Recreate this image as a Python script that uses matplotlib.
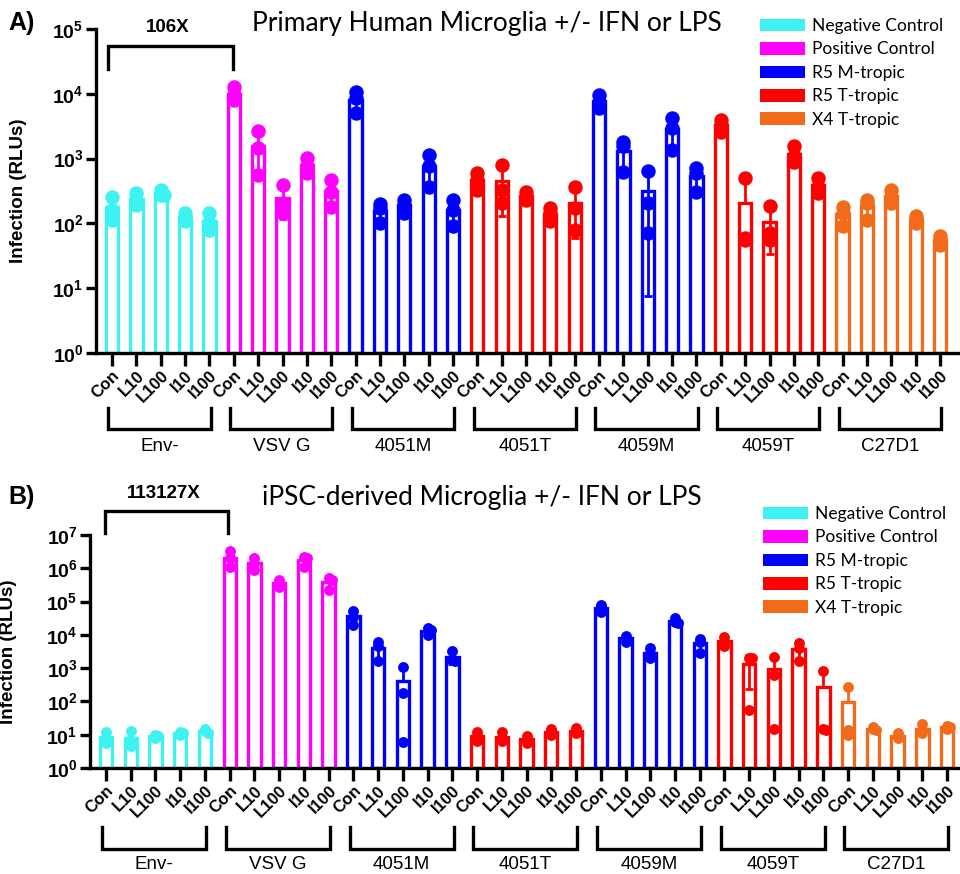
import numpy as np
import matplotlib
matplotlib.use("Agg")
import matplotlib.pyplot as plt
from matplotlib.patches import Patch
from matplotlib.transforms import blended_transform_factory

plt.rcParams['font.family'] = ['Liberation Sans', 'DejaVu Sans']
plt.rcParams['mathtext.fontset'] = 'custom'
plt.rcParams['mathtext.bf'] = 'Liberation Sans:bold'
plt.rcParams['mathtext.rm'] = 'Liberation Sans:bold'

# ---- data (3 replicate dots per bar, RLUs) ----
groups = ['Env-', 'VSV G', '4051M', '4051T', '4059M', '4059T', 'C27D1']
conditions = ['Con', 'L10', 'L100', 'I10', 'I100']
legend_labels = ['Negative Control', 'Positive Control', 'R5 M-tropic', 'R5 T-tropic', 'X4 T-tropic']
legend_colors = ['#3EF2F2', '#FF00FF', '#0000FF', '#FF0000', '#F26B1A']
group_type = [0, 1, 2, 3, 2, 3, 4]   # index into legend for each group

# Panel A: primary human microglia
a_env = [[260, 162, 114], [293, 230, 194], [322, 277, 277], [144, 121, 107], [145, 100, 80]]
a_vsvg = [[12600, 9600, 8100], [2630, 1450, 560], [394, 205, 144], [1010, 757, 600], [470, 300, 180]]
a_4051m = [[10800, 8500, 5000], [200, 170, 100], [230, 194, 144], [1140, 757, 370], [230, 162, 90]]
a_4051t = [[596, 470, 330], [800, 330, 205], [300, 260, 230], [172, 144, 107], [370, 172, 80]]
a_4059m = [[9600, 7600, 6000], [1830, 1540, 630], [655, 210, 72], [4200, 2930, 1360], [710, 596, 310]]
a_4059t = [[4000, 3300, 2600], [500, 60, 55], [186, 71, 56], [1540, 1100, 900], [500, 370, 290]]
a_c27d1 = [[178, 144, 90], [230, 205, 114], [330, 260, 205], [128, 114, 100], [63, 56, 47]]

# Panel B: iPSC-derived microglia
b_env = [[11.7, 8, 5.6], [12.6, 7, 4.5], [10, 9, 8], [11.7, 11, 10], [14.8, 12.6, 11]]
b_vsvg = [[3.2e6, 2.0e6, 1.1e6], [2.0e6, 1.4e6, 0.9e6], [4.5e5, 3.5e5, 2.8e5], [2.2e6, 2.0e6, 1.1e6], [5.0e5, 4.5e5, 2.2e5]]
b_4051m = [[5.3e4, 3.5e4, 2.0e4], [5900, 4500, 1600], [1050, 178, 5.9], [1.6e4, 1.4e4, 1.0e4], [3200, 1800, 1600]]
b_4051t = [[11.7, 9, 6.3], [11.7, 8, 6.3], [9, 7, 5.6], [14.8, 12.6, 10], [15.8, 13, 11.2]]
b_4059m = [[7.9e4, 6.3e4, 5.0e4], [9300, 7900, 6300], [4000, 2800, 2000], [3.2e4, 2.5e4, 2.2e4], [7400, 6300, 2950]]
b_4059t = [[8900, 6300, 4700], [2000, 2000, 56], [2140, 630, 15], [5600, 4000, 1600], [800, 15, 14]]
b_c27d1 = [[270, 14, 10], [17, 14.8, 13.5], [11, 9.3, 8], [21, 14, 11], [18.6, 17, 14.8]]

panel_a = [a_env, a_vsvg, a_4051m, a_4051t, a_4059m, a_4059t, a_c27d1]
panel_b = [b_env, b_vsvg, b_4051m, b_4051t, b_4059m, b_4059t, b_c27d1]


def spread(vals, thresh, step):
    # small horizontal offsets for dots that sit right on top of each other
    placed = []
    offs = []
    for v in vals:
        lv = np.log10(v)
        for o in [0, step, -step, 2 * step]:
            if all(abs(lv - pl) > thresh or po != o for pl, po in placed):
                break
        placed.append((lv, o))
        offs.append(o)
    return np.array(offs)


def draw_panel(ax, data, ymax, ms, thresh):
    x = 0
    for g, group in enumerate(data):
        col = legend_colors[group_type[g]]
        for reps in group:
            reps = np.array(reps, dtype=float)
            m = reps.mean()
            sd = reps.std(ddof=1)
            lo = m - sd if m - sd > 0 else m
            ax.bar(x, m - 1, bottom=1, width=0.5, facecolor='white',
                   edgecolor=col, linewidth=2.4, zorder=2)
            ax.errorbar(x, m, yerr=[[m - lo], [sd]], fmt='none', ecolor=col,
                        elinewidth=2, capsize=3, capthick=2, zorder=3)
            ax.plot(x + spread(reps, thresh, 0.12), reps, 'o', color=col,
                    ms=ms, mec=col, zorder=4, clip_on=False)
            x += 1
    ax.set_yscale('log')
    ax.set_ylim(1, ymax)
    n = int(round(np.log10(ymax)))
    ax.yaxis.set_major_locator(matplotlib.ticker.FixedLocator([10.0 ** k for k in range(n + 1)]))
    ax.yaxis.set_minor_locator(matplotlib.ticker.NullLocator())
    ax.set_yticklabels([r'$\mathbf{10^{%d}}$' % k for k in range(n + 1)], fontsize=14)
    ax.set_xticks(np.arange(len(groups) * len(conditions)))
    ax.set_xticklabels(conditions * len(groups), rotation=45, ha='right',
                       rotation_mode='anchor', fontsize=12, fontweight='bold')
    for s in ['top', 'right']:
        ax.spines[s].set_visible(False)
    for s in ['left', 'bottom']:
        ax.spines[s].set_linewidth(2.4)
    ax.tick_params(axis='y', length=7, width=2.4, pad=2)
    ax.tick_params(axis='x', length=9, width=2.4, pad=2)
    ax.set_ylabel('Infection (RLUs)', fontsize=13.5, fontweight='bold')


def group_brackets(ax, top, bot, text_y):
    tr = blended_transform_factory(ax.transData, ax.transAxes)
    for g, name in enumerate(groups):
        x0, x1 = g * 5 - 0.15, g * 5 + 4.05
        ax.plot([x0, x0, x1, x1], [top, bot, bot, top], color='black', lw=2.4,
                transform=tr, clip_on=False, solid_joinstyle='miter')
        ax.text((x0 + x1) / 2, text_y, name, transform=tr, ha='center', va='center',
                fontsize=13.5)


def top_bracket(ax, x0, x1, ytop, yleg, label, ylab):
    ax.plot([x0, x0, x1, x1], [yleg, ytop, ytop, yleg], color='black', lw=2.4,
            clip_on=False, solid_joinstyle='miter')
    ax.text((x0 + x1) / 2 - 0.1, ylab, label, ha='center', va='center',
            fontsize=13.5, fontweight='bold')


fig = plt.figure(figsize=(9.6, 8.74), dpi=100)
axA = fig.add_axes([96 / 960, (874 - 353) / 874, (958 - 96) / 960, (353 - 29) / 874])
axB = fig.add_axes([90 / 960, (874 - 768) / 874, (958 - 90) / 960, (768 - 535) / 874])

draw_panel(axA, panel_a, 1e5, 9.4, 0.03)
axA.set_xlim(-0.66, 34.74)
axA.yaxis.set_label_coords(-0.080, 0.5)
group_brackets(axA, -0.170, -0.235, -0.29)
top_bracket(axA, -0.15, 4.95, 5.5e4, 2.4e4, '106X', 1.05e5)

draw_panel(axB, panel_b, 1e7, 6.8, 0.06)
axB.set_xlim(-0.647, 34.44)
axB.yaxis.set_label_coords(-0.084, 0.5)
group_brackets(axB, -0.253, -0.348, -0.415)
top_bracket(axB, -0.04, 4.93, 5.2e7, 1.15e7, '113127X', 1.8e8)

title_font = ['Lato', 'DejaVu Sans']
fig.text(487 / 960, 1 - 24 / 874, 'Primary Human Microglia +/- IFN or LPS', ha='center',
         va='center', fontsize=19, family=title_font)
fig.text(482 / 960, 1 - 497 / 874, 'iPSC-derived Microglia +/- IFN or LPS', ha='center',
         va='center', fontsize=19, family=title_font)
fig.text(8 / 960, 1 - 23 / 874, 'A)', ha='left', va='center', fontsize=18, fontweight='bold')
fig.text(8 / 960, 1 - 497 / 874, 'B)', ha='left', va='center', fontsize=18, fontweight='bold')

handles = [Patch(facecolor=c, edgecolor='none') for c in legend_colors]
for (lx, ly) in [(760, 18), (763, 506)]:
    fig.legend(handles, legend_labels, loc='upper left',
               bbox_to_anchor=(lx / 960, 1 - ly / 874), frameon=False,
               prop={'family': title_font, 'size': 12.5}, handlelength=2.6,
               handleheight=0.75, handletextpad=0.4, labelspacing=0.43, borderpad=0,
               borderaxespad=0)

fig.savefig('out.png', dpi=100)
